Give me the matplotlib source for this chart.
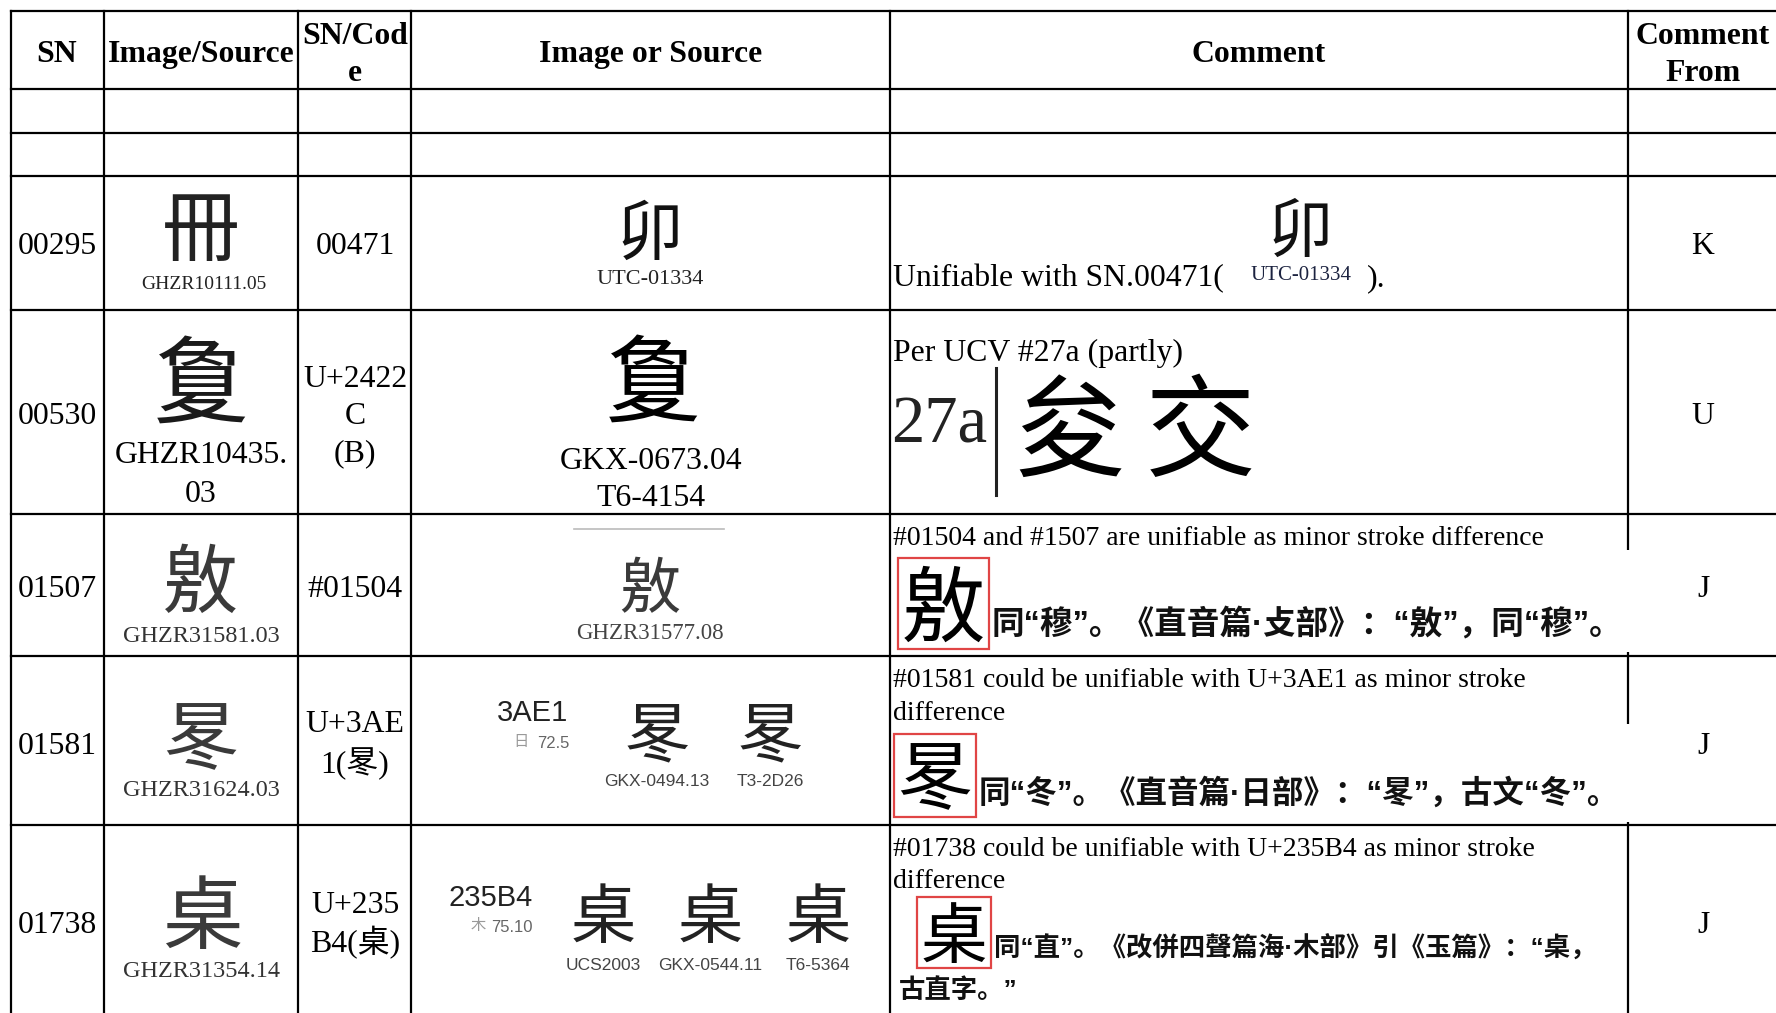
import matplotlib
matplotlib.use('Agg')
import matplotlib.pyplot as plt
from matplotlib import font_manager as fm
from matplotlib.ft2font import FT2Font
from matplotlib.patches import Rectangle

plt.rcParams['font.family'] = ['Liberation Serif', 'Noto Sans CJK SC', 'DejaVu Sans']

SERIF = ['Liberation Serif', 'Noto Sans CJK SC', 'DejaVu Sans']
CJK = ['Noto Sans CJK SC', 'DejaVu Sans']
CJK_MIX = ['Liberation Sans', 'Noto Sans CJK SC', 'DejaVu Sans']   # narrow Latin quotes
NARROW = ['Liberation Sans Narrow', 'Liberation Sans', 'DejaVu Sans']

# rare glyphs: use the real code point when the CJK font has it
cmap = FT2Font(fm.findfont(fm.FontProperties(family='Noto Sans CJK SC'))).get_charmap()
def pick(ch, alt):
    return ch if ord(ch) in cmap else alt

C530 = pick(chr(0x2422C), '夐')
C1581 = pick('\u3AE1', '冬')
C1738 = pick(chr(0x235B4), '桌')

# ---- table content -------------------------------------------------------
headers = ['SN', 'Image/Source', 'SN/Cod\ne', 'Image or Source', 'Comment', 'Comment\nFrom']
sn = ['00295', '00530', '01507', '01581', '01738']
codes = ['00471', 'U+2422\nC\n(B)', '#01504', 'U+3AE\n1(' + C1581 + ')', 'U+235\nB4(' + C1738 + ')']
src_glyph = ['冊', C530, '敫', C1581, C1738]
src_label = ['GHZR10111.05', 'GHZR10435.\n03', 'GHZR31581.03', 'GHZR31624.03', 'GHZR31354.14']
comment_from = ['K', 'U', 'J', 'J', 'J']

comment_en = ['Unifiable with SN.00471(',
              'Per UCV #27a (partly)',
              '#01504 and #1507 are unifiable as minor stroke difference',
              '#01581 could be unifiable with U+3AE1 as minor stroke\ndifference',
              '#01738 could be unifiable with U+235B4 as minor stroke\ndifference']
comment_zh = ['', '',
              '同“穆”。《直音篇·攴部》：“敫”，同“穆”。',
              '同“冬”。《直音篇·日部》：“' + C1581 + '”，古文“冬”。',
              '同“直”。《改併四聲篇海·木部》引《玉篇》：“' + C1738 + '，']
comment_zh_tail = '古直字。”'

# layout (pixels)
col_edges = [11, 104, 298, 411, 890, 1628, 1779]
row_edges = [11, 89, 133, 176, 310, 514, 656, 825, 1030]
row_y = [243, 413, 586, 743, 922]

W, H = 1776, 1013
fig = plt.figure(figsize=(W / 100, H / 100), dpi=100)
ax = fig.add_axes([0, 0, 1, 1])
ax.set_xlim(0, W)
ax.set_ylim(H, 0)
ax.axis('off')

LW = 1.6
BODY = 22.9


def txt(x, y, s, size=BODY, ha='center', va='center', family=SERIF, dy=None, **kw):
    # va='center' sits a little high (descent is included), push it down
    if dy is None:
        dy = 3 if family in (SERIF, NARROW) else 0.139 * size
    return ax.text(x, y + dy, s, fontsize=size, ha=ha, va=va, family=family, zorder=3, **kw)


def lines(x, y0, pitch, s, **kw):
    return [txt(x, y0 + i * pitch, part, **kw) for i, part in enumerate(s.split('\n'))]


# grid
for x in col_edges:
    ax.plot([x, x], [row_edges[0], row_edges[-1]], color='black', lw=LW, zorder=1)
for y in row_edges:
    ax.plot([col_edges[0], col_edges[-1]], [y, y], color='black', lw=LW, zorder=1)
# pasted pictures hide part of the comment column border
ax.add_patch(Rectangle((1560, 550), 80, 102, fc='white', ec='none', zorder=2))
ax.add_patch(Rectangle((1560, 724), 80, 98, fc='white', ec='none', zorder=2))

# header
hx = [57, 201, 355, 651, 1259, 1703]
for x, h in zip(hx, headers):
    if '\n' in h:
        lines(x, 33, 37, h, weight='bold')
    else:
        txt(x, 51, h, weight='bold')

# SN / codes / comment from
for y, s, f in zip(row_y, sn, comment_from):
    txt(57, y, s)
    txt(1703, y, f)
lines(355, 243, 0, codes[0])
lines(355, 376, 37.5, codes[1])
lines(355, 586, 0, codes[2])
lines(355, 721, 40, codes[3])
lines(355, 902, 38, codes[4])

# Image/Source column
txt(201, 225, src_glyph[0], size=56, family=CJK, color='#222222')
txt(204, 281, src_label[0], size=14, color='#222222')
txt(201, 378, src_glyph[1], size=68, family=CJK, color='#1a1a1a')
lines(201, 452, 39, src_label[1])
txt(200, 578, src_glyph[2], size=54, family=CJK, color='#3a3a3a')
txt(201, 633, src_label[2], size=17.5, color='#333333')
txt(201, 735, src_glyph[3], size=54, family=CJK, color='#3a3a3a')
txt(201, 787, src_label[3], size=17.5, color='#333333')
txt(202, 912, src_glyph[4], size=58, family=CJK, color='#3a3a3a')
txt(201, 968, src_label[4], size=17.5, color='#333333')

# Image or Source column
txt(650, 229, '卯', size=48, family=CJK, color='#111111')
txt(650, 276, 'UTC-01334', size=16, color='#222222')
txt(653, 377, C530, size=68, family=CJK)
lines(651, 458, 37, 'GKX-0673.04\nT6-4154')
ax.plot([574, 724], [529, 529], color='#bbbbbb', lw=1.2, zorder=1)
txt(650, 585, '敫', size=44, family=CJK, color='#3a3a3a')
txt(650, 630, 'GHZR31577.08', size=16.5, color='#444444')

txt(532, 710, '3AE1', size=21, family=NARROW, color='#222222')
txt(521, 740, '日', size=11, family=CJK, color='#999999')
txt(553, 740, '72.5', size=12, family=NARROW, color='#666666')
for x, lab in zip([657, 770], ['GKX-0494.13', 'T3-2D26']):
    txt(x, 732, C1581, size=47, family=CJK, color='#222222')
    txt(x, 778, lab, size=12.5, family=NARROW, color='#444444')

txt(491, 895, '235B4', size=21, family=NARROW, color='#222222')
txt(478, 924, '木', size=11, family=CJK, color='#999999')
txt(512, 924, '75.10', size=12, family=NARROW, color='#666666')
for x, lab in zip([603, 710, 818], ['UCS2003', 'GKX-0544.11', 'T6-5364']):
    txt(x, 913, C1738, size=47, family=CJK, color='#222222')
    txt(x, 962, lab, size=12.5, family=NARROW, color='#444444')

# Comment column
txt(1300, 227, '卯', size=47, family=CJK, color='#111111')
txt(893, 276, comment_en[0], ha='left')
txt(1301, 272, 'UTC-01334', size=15, color='#1c2340')
txt(1367, 276, ').', ha='left')

txt(893, 350, comment_en[1], ha='left')
txt(939, 423, '27a', size=48, color='#222222')
ax.plot([996, 996], [368, 495], color='#222222', lw=2.2, zorder=3)
txt(1069, 425, '夋', size=80, family=CJK)
txt(1200, 425, '交', size=80, family=CJK)

txt(893, 535, comment_en[2], size=20, ha='left')
lines(893, 677, 33, comment_en[3], size=20, ha='left')
lines(893, 846, 32, comment_en[4], size=20, ha='left')

RED = '#e04545'
boxes = [(898, 558, 91, 91), (894, 734, 82, 83), (917, 897, 74, 71)]
box_glyph = ['敫', C1581, C1738]
box_size = [60, 54, 48]
zh_span = [(992, 1622, 624), (979, 1620, 794), (994, 1597, 948)]

fig.canvas.draw()
rend = fig.canvas.get_renderer()


def fit(t, width):
    bb = t.get_window_extent(rend)
    t.set_fontsize(t.get_fontsize() * width / bb.width)


zh_texts = []
for (bx, by, bw, bh), g, gs, (x0, x1, yc), s in zip(boxes, box_glyph, box_size, zh_span, comment_zh[2:]):
    ax.add_patch(Rectangle((bx, by), bw, bh, fill=False, ec=RED, lw=1.6, zorder=3))
    txt(bx + bw / 2, by + bh / 2, g, size=gs, family=CJK)
    t = txt(x0, yc, s, size=20, ha='left', family=CJK_MIX, dy=0, weight='bold', color='#111111')
    fit(t, x1 - x0)
    zh_texts.append(t)

txt(899, 991, comment_zh_tail, size=zh_texts[-1].get_fontsize(), ha='left',
    family=CJK_MIX, dy=0, weight='bold', color='#111111')

fig.savefig('out.png', dpi=100, facecolor='white')
